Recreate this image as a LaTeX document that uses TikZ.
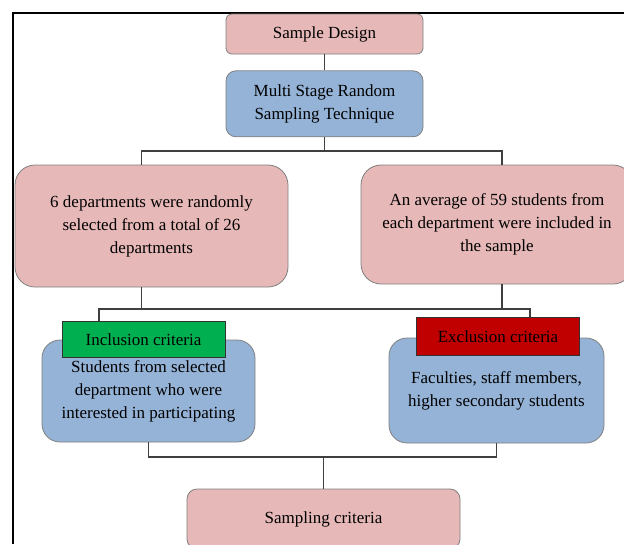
\documentclass[tikz,border=0pt]{standalone}
\usepackage{fontspec}
\setmainfont{Liberation Serif}
\usetikzlibrary{positioning}
\definecolor{pinkfill}{HTML}{E6B9B8}
\definecolor{bluefill}{HTML}{95B3D7}
\definecolor{incgreen}{HTML}{00B050}
\definecolor{excred}{HTML}{C00000}
\definecolor{edge}{HTML}{7F7F7F}
\definecolor{wire}{HTML}{3F3F3F}

\begin{document}
\begin{tikzpicture}[
  x=1pt, y=-1pt,
  font=\fontsize{17}{23}\selectfont,
  box/.style={draw=edge, line width=0.8pt, align=center, inner sep=2pt},
  pinkbox/.style={box, fill=pinkfill},
  bluebox/.style={box, fill=bluefill},
  tagbox/.style={draw=black!80, line width=0.8pt, minimum width=163pt, minimum height=36pt, inner sep=2pt},
  conn/.style={wire, line width=1.1pt},
]
\useasboundingbox (0,0) rectangle (624,544);
% outer frame
\draw[line width=1.4pt] (13,544) -- (13,13) -- (624,13);

\node[pinkbox, rounded corners=6pt, minimum width=197pt, minimum height=40pt] (design) at (324.5,34) {Sample Design};
\node[bluebox, rounded corners=10pt, minimum width=197pt, minimum height=66pt, below=16pt of design] (technique) {Multi Stage Random\\Sampling Technique};
\node[pinkbox, rounded corners=20pt, minimum width=273pt, minimum height=122pt] (selected) at (151.5,226) {6 departments were randomly\\selected from a total of 26\\departments};
\node[pinkbox, rounded corners=20pt, minimum width=272pt, minimum height=119pt] (average) at (497,224.5) {An average of 59 students from\\each department were included in\\the sample};
\node[bluebox, rounded corners=18pt, minimum width=213pt, minimum height=102pt] (incbox) at (148.5,391) {Students from selected\\department who were\\interested in participating};
\node[bluebox, rounded corners=18pt, minimum width=215pt, minimum height=105pt] (excbox) at (496.5,390.5) {Faculties, staff members,\\higher secondary students};
\node[tagbox, fill=incgreen, above=-18pt of incbox, xshift=-5pt] (inctag) {Inclusion criteria};
\node[tagbox, fill=excred, above=-18pt of excbox, xshift=1.5pt, minimum height=38pt] (exctag) {Exclusion criteria};
\node[pinkbox, rounded corners=10pt, minimum width=273pt, minimum height=60pt] (sampling) at (323.5,519) {Sampling criteria};

% bus levels of the elbow connectors
\coordinate (bus1) at (0,151);
\coordinate (bus2) at (0,309);
\coordinate (bus3) at (0,457);
\coordinate (selN) at ([xshift=-10pt]selected.north);
\coordinate (selS) at ([xshift=-10pt]selected.south);
\coordinate (avgN) at ([xshift=5pt]average.north);
\coordinate (avgS) at ([xshift=5pt]average.south);
\coordinate (incN) at ([xshift=-44.5pt]inctag.north);
\coordinate (excN) at ([xshift=32pt]exctag.north);
\draw[conn] (design) -- (technique);
\draw[conn] (technique.south) -- (technique.south |- bus1);
\draw[conn] (selN) -- (selN |- bus1) -- (avgN |- bus1) -- (avgN);
\draw[conn] (selS) -- (selS |- bus2);
\draw[conn] (avgS) -- (avgS |- bus2);
\draw[conn] (incN) -- (incN |- bus2) -- (excN |- bus2) -- (excN);
\draw[conn] (incbox.south) -- (incbox.south |- bus3) -- (excbox.south |- bus3) -- (excbox.south);
\draw[conn] (sampling.north) -- (sampling.north |- bus3);
\end{tikzpicture}
\end{document}
